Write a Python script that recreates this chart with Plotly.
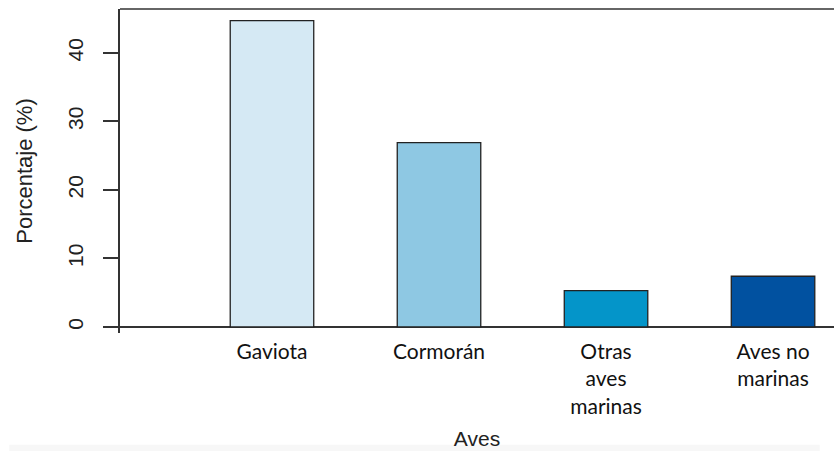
import plotly.graph_objects as go

categories = ["Gaviota", "Cormorán", "Otras<br>aves<br>marinas", "Aves no<br>marinas"]
values = [44.7, 26.9, 5.3, 7.4]
colors = ["#d5e9f4", "#8ec8e3", "#0495c9", "#0151a0"]
y_ticks = [0, 10, 20, 30, 40]

fig = go.Figure()
fig.add_trace(go.Bar(
    x=list(range(len(categories))),
    y=values,
    width=0.5,
    marker=dict(color=colors, line=dict(color="#222222", width=1.3)),
    showlegend=False,
    hoverinfo="skip",
))

fig.update_layout(
    width=834, height=451,
    margin=dict(l=120, r=0, t=9, b=118),
    paper_bgcolor="white", plot_bgcolor="white",
    xaxis=dict(
        range=[-0.91, 3.365],
        tickvals=list(range(len(categories))),
        ticktext=categories,
        tickfont=dict(family="Lato", size=21, color="#111"),
        ticklabelstandoff=4,
        showgrid=False, zeroline=False, showline=False, ticks="",
        title=dict(text="Aves", font=dict(family="Liberation Sans", size=21, color="#222"), standoff=14),
    ),
    yaxis=dict(
        range=[-0.88, 46.4],
        tickvals=y_ticks,
        tickangle=-90,
        ticks="outside", ticklen=15, tickwidth=1.5, tickcolor="#333",
        tickfont=dict(family="Liberation Sans", size=21, color="#222"),
        ticklabelstandoff=12,
        showgrid=False,
        zeroline=True, zerolinecolor="#333", zerolinewidth=1.5,
        showline=True, linecolor="#333", linewidth=1.5,
        title=dict(text="Porcentaje (%)", font=dict(family="Liberation Sans", size=22, color="#222"), standoff=25),
    ),
    shapes=[
        dict(type="line", xref="paper", yref="paper", x0=0, x1=1, y0=1, y1=1,
             line=dict(color="#333", width=1.5)),
        dict(type="rect", xref="paper", yref="paper", x0=-0.155, x1=0.98, y0=-0.345, y1=-0.40,
             fillcolor="#f7f7f7", line=dict(width=0), layer="below"),
    ],
)

fig.write_html("out.html", config={"displayModeBar": False},
               post_script="document.body.style.margin='0';document.body.style.padding='0';")
